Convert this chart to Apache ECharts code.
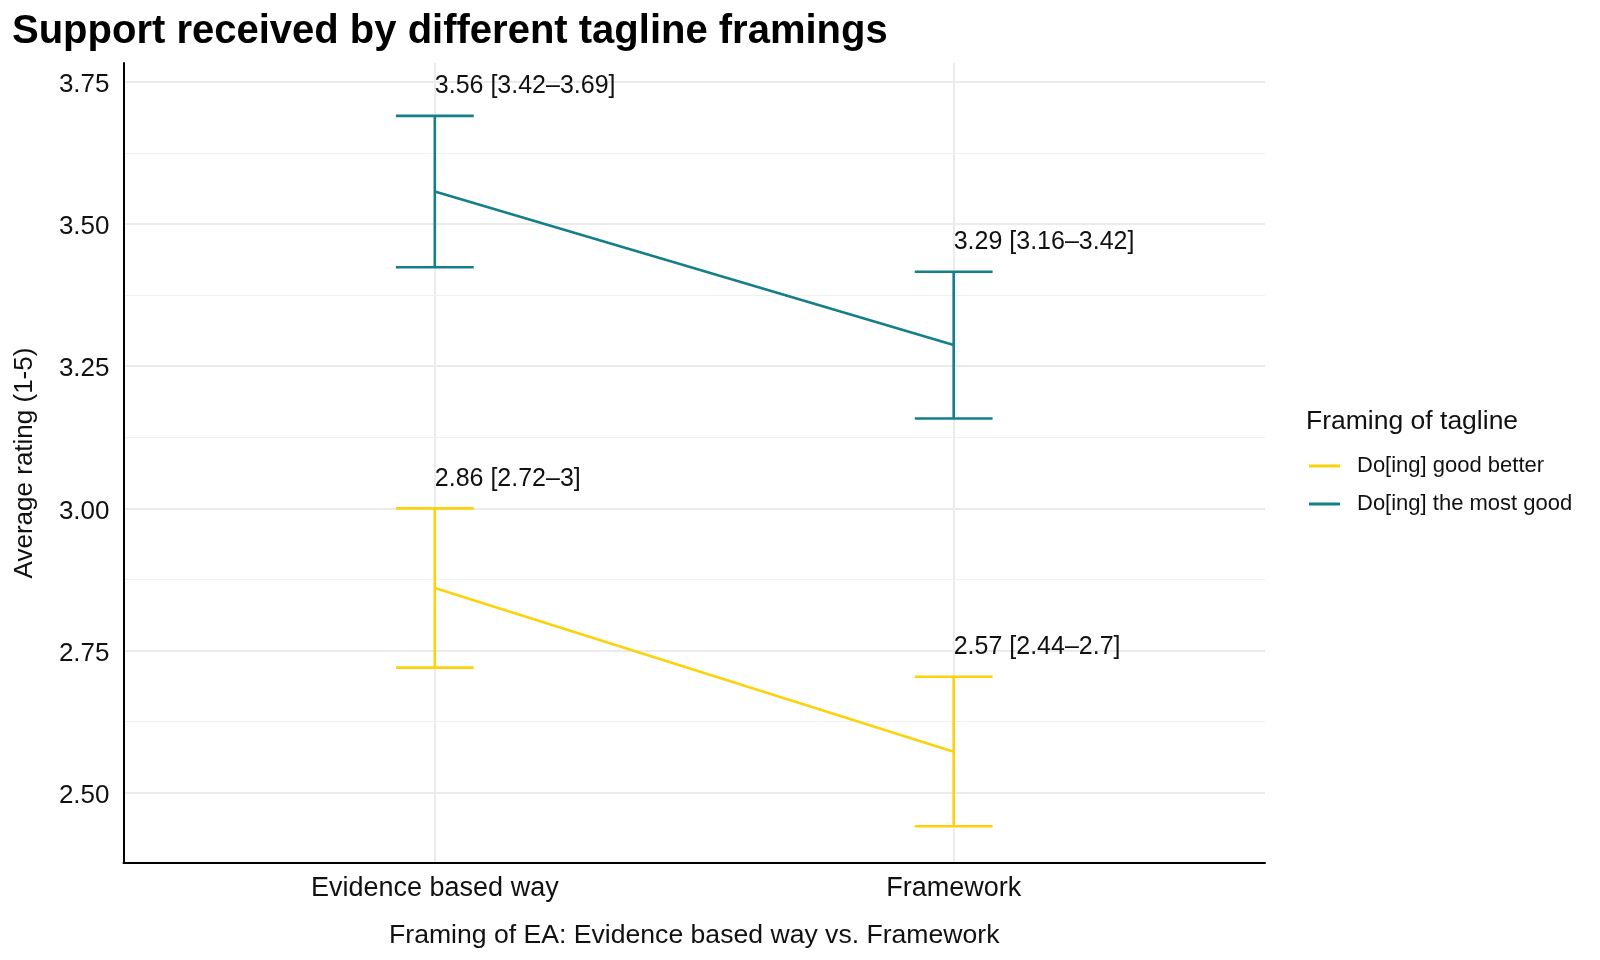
<!DOCTYPE html>
<html>
<head>
<meta charset="utf-8">
<script src="https://cdn.jsdelivr.net/npm/echarts@6/dist/echarts.min.js"></script>
<style>
html,body{margin:0;padding:0;background:#fff;}
#main{width:1600px;height:960px;}
</style>
</head>
<body>
<div id="main"></div>
<script>
const categories = ['Evidence based way', 'Framework'];
const seriesNames = ['Do[ing] good better', 'Do[ing] the most good'];
const goodBetterMean = [2.860, 2.572];
const goodBetterLow = [2.720, 2.441];
const goodBetterHigh = [3.000, 2.704];
const mostGoodMean = [3.557, 3.287];
const mostGoodLow = [3.424, 3.158];
const mostGoodHigh = [3.690, 3.416];
const goodBetterLabels = ['2.86 [2.72\u20133]', '2.57 [2.44\u20132.7]'];
const mostGoodLabels = ['3.56 [3.42\u20133.69]', '3.29 [3.16\u20133.42]'];
const yTicks = [2.5, 2.75, 3.0, 3.25, 3.5, 3.75];
const yMinorTicks = [2.625, 2.875, 3.125, 3.375, 3.625];
const xPositions = [1, 2];

const colors = ['#fcd20c', '#157f89'];
const FONT = '"Liberation Sans", Arial, Helvetica, sans-serif';
const capHalf = 0.075;

function lineData(means) { return xPositions.map((x, i) => [x, means[i]]); }
function barData(lows, highs) { return xPositions.map((x, i) => [x, lows[i], highs[i]]); }

function makeErrorSeries(name, color, lows, highs, labels) {
  return {
    type: 'custom',
    name: name,
    clip: false,
    z: 3,
    encode: { x: 0, y: [1, 2] },
    data: barData(lows, highs),
    renderItem: function (params, api) {
      const x = api.value(0), lo = api.value(1), hi = api.value(2);
      const pLo = api.coord([x, lo]);
      const pHi = api.coord([x, hi]);
      const pLL = api.coord([x - capHalf, lo]);
      const pLR = api.coord([x + capHalf, lo]);
      const pHL = api.coord([x - capHalf, hi]);
      const pHR = api.coord([x + capHalf, hi]);
      const ls = { stroke: color, lineWidth: 2.6 };
      return {
        type: 'group',
        children: [
          { type: 'line', shape: { x1: pLo[0], y1: pLo[1], x2: pHi[0], y2: pHi[1] }, style: ls },
          { type: 'line', shape: { x1: pLL[0], y1: pLL[1], x2: pLR[0], y2: pLR[1] }, style: ls },
          { type: 'line', shape: { x1: pHL[0], y1: pHL[1], x2: pHR[0], y2: pHR[1] }, style: ls },
          { type: 'text', x: pHi[0], y: pHi[1] - 17,
            style: { text: labels[params.dataIndex], fill: '#111', font: '25px ' + FONT,
                     textAlign: 'left', textVerticalAlign: 'bottom' } }
        ]
      };
    }
  };
}

const chart = echarts.init(document.getElementById('main'), null, { renderer: 'canvas' });
chart.setOption({
  backgroundColor: '#ffffff',
  animation: false,
  textStyle: { fontFamily: FONT },
  title: [{
    text: 'Support received by different tagline framings',
    left: 7, top: 7,
    textStyle: { fontSize: 40, fontWeight: 'bold', color: '#000', fontFamily: FONT }
  }],
  graphic: [{
    type: 'text', left: 1306, top: 408,
    style: { text: 'Framing of tagline', font: '26.5px ' + FONT, fill: '#111' }
  }],
  legend: {
    orient: 'vertical',
    left: 1304, top: 450,
    icon: 'rect',
    itemWidth: 31, itemHeight: 3,
    itemGap: 16,
    data: seriesNames,
    textStyle: { fontSize: 22, color: '#111', fontFamily: FONT, lineHeight: 22, padding: [0, 0, 0, 12] }
  },
  grid: { left: 123.5, right: 335, top: 63, bottom: 97, containLabel: false },
  xAxis: {
    type: 'value', min: 0.4, max: 2.6,
    name: 'Framing of EA: Evidence based way vs. Framework',
    nameLocation: 'middle', nameGap: 59,
    nameTextStyle: { fontSize: 26.6, color: '#111', fontFamily: FONT },
    axisLine: { show: true, lineStyle: { color: '#000', width: 2 } },
    axisTick: { show: false, customValues: xPositions },
    axisLabel: {
      customValues: xPositions, fontSize: 27, color: '#111', margin: 12,
      formatter: v => categories[Math.round(v) - 1] || ''
    },
    splitLine: { show: true, lineStyle: { color: '#ebebeb', width: 2 } }
  },
  yAxis: [{
    type: 'value', min: 2.3765, max: 3.783,
    name: 'Average rating (1-5)',
    nameLocation: 'middle', nameGap: 86, nameRotate: 90,
    nameTextStyle: { fontSize: 26, color: '#111', fontFamily: FONT },
    axisLine: { show: true, lineStyle: { color: '#000', width: 2 } },
    axisTick: { show: false, customValues: yTicks },
    axisLabel: { customValues: yTicks, color: '#111', margin: 14,
      formatter: v => '{t|' + v.toFixed(2) + '}',
      rich: { t: { fontSize: 26, color: '#111', fontFamily: FONT, padding: [6, 0, 0, 0] } } },
    splitLine: { show: true, lineStyle: { color: '#ebebeb', width: 2 } },
    z: 2
  }, {
    type: 'value', min: 2.3765, max: 3.783, position: 'left',
    axisLine: { show: false }, axisTick: { show: false, customValues: yMinorTicks },
    axisLabel: { show: false, customValues: yMinorTicks },
    splitLine: { show: true, lineStyle: { color: '#f0f0f0', width: 1.2 } },
    z: 1
  }],
  series: [
    { type: 'line', name: seriesNames[0], data: lineData(goodBetterMean), symbol: 'none',
      lineStyle: { color: colors[0], width: 2.6 }, itemStyle: { color: colors[0] }, z: 3 },
    { type: 'line', name: seriesNames[1], data: lineData(mostGoodMean), symbol: 'none',
      lineStyle: { color: colors[1], width: 2.6 }, itemStyle: { color: colors[1] }, z: 3 },
    Object.assign(makeErrorSeries(seriesNames[0], colors[0], goodBetterLow, goodBetterHigh, goodBetterLabels), { color: colors[0] }),
    Object.assign(makeErrorSeries(seriesNames[1], colors[1], mostGoodLow, mostGoodHigh, mostGoodLabels), { color: colors[1] })
  ]
});
</script>
</body>
</html>
